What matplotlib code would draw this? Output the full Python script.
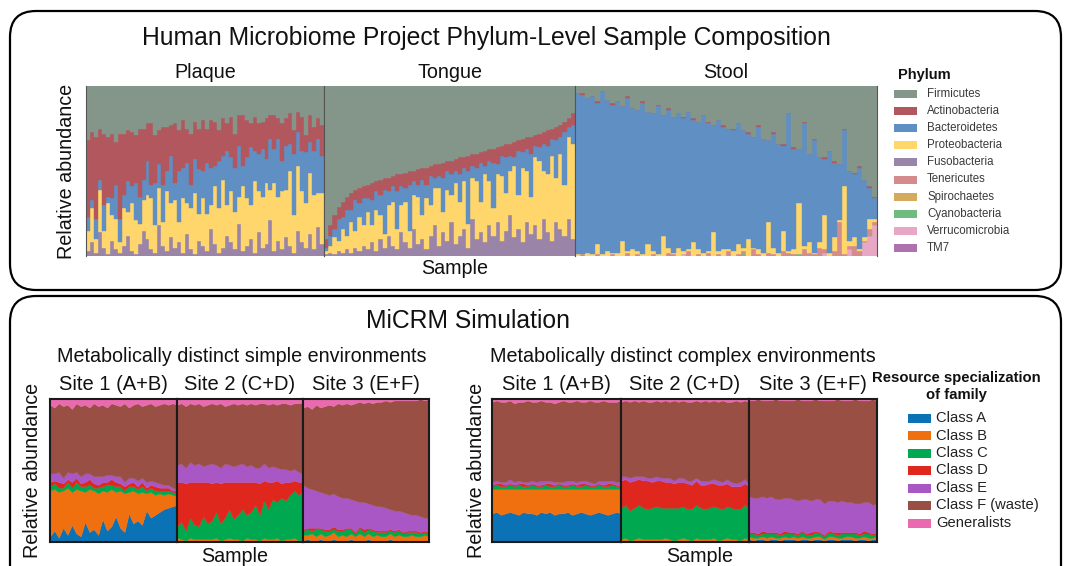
import numpy as np
import matplotlib
matplotlib.use("Agg")
import matplotlib.pyplot as plt
from matplotlib.patches import FancyBboxPatch, Rectangle

plt.rcParams['font.family'] = ['Liberation Sans', 'DejaVu Sans']

# ---------------- HMP phylum data (percent per sample) ----------------
phyla = ["Firmicutes", "Actinobacteria", "Bacteroidetes", "Proteobacteria", "Fusobacteria",
         "Tenericutes", "Spirochaetes", "Cyanobacteria", "Verrucomicrobia", "TM7"]
phylum_colors = ["#849689", "#b3575f", "#5f8fc3", "#ffd66c", "#9a85a8",
                 "#d48b8b", "#d4aa5c", "#6fbb80", "#e8a7c4", "#ae73ad"]

plaque_fuso = [3, 8, 2, 14, 5, 1, 9, 4, 2, 6, 12, 3, 1, 7, 15, 10, 4, 2, 18, 6,
               3, 11, 5, 8, 2, 13, 4, 1, 9, 6, 3, 16, 7, 2, 5, 12, 8, 4, 19, 3,
               6, 10, 2, 14, 5, 7, 21, 3, 9, 4, 11, 6, 2, 15, 8, 5, 13, 4, 17, 7]
plaque_proteo = [12, 20, 8, 25, 10, 30, 15, 18, 6, 22, 14, 28, 20, 12, 18, 26, 30, 16, 22, 14,
                 35, 20, 28, 12, 32, 18, 24, 36, 16, 28, 22, 14, 34, 26, 40, 18, 30, 22, 16, 38,
                 28, 20, 42, 24, 30, 36, 18, 40, 26, 34, 28, 44, 22, 38, 30, 26, 36, 32, 20, 30]
plaque_bact = [8, 5, 12, 6, 15, 4, 10, 20, 14, 8, 18, 10, 22, 16, 12, 20, 8, 25, 14, 22,
               12, 28, 10, 30, 18, 24, 14, 20, 26, 16, 30, 22, 12, 28, 14, 32, 20, 26, 30, 12,
               24, 34, 18, 22, 28, 14, 30, 20, 34, 18, 26, 16, 36, 20, 24, 30, 18, 26, 32, 22]
plaque_actino = [45, 40, 48, 30, 42, 35, 38, 25, 50, 36, 30, 32, 28, 40, 30, 22, 36, 28, 20, 34,
                 26, 18, 35, 24, 28, 20, 30, 22, 24, 30, 20, 28, 26, 18, 22, 16, 24, 20, 18, 30,
                 22, 14, 20, 18, 16, 24, 14, 20, 12, 22, 16, 18, 14, 12, 20, 10, 16, 14, 12, 18]

tongue_fuso = [1, 2, 1, 3, 2, 4, 2, 5, 3, 6, 4, 8, 3, 10, 5, 12, 6, 4, 14, 8,
               5, 16, 7, 10, 4, 12, 18, 6, 14, 9, 20, 7, 12, 16, 5, 22, 10, 14, 8, 18,
               12, 20, 9, 15, 24, 11, 16, 8, 20, 13, 18, 10, 22, 14, 9, 20, 16, 12, 22, 10]
tongue_proteo = [2, 4, 10, 6, 14, 8, 18, 10, 20, 12, 22, 10, 24, 14, 8, 18, 26, 12, 16, 24,
                 10, 20, 28, 14, 30, 18, 22, 34, 12, 30, 16, 36, 20, 28, 14, 24, 34, 18, 40, 26,
                 16, 28, 38, 22, 26, 42, 20, 44, 30, 22, 40, 46, 28, 34, 50, 26, 44, 30, 48, 56]
tongue_bact = [2, 6, 5, 13, 7, 15, 7, 18, 8, 16, 8, 15, 11, 12, 26, 8, 9, 22, 11, 8,
               27, 8, 7, 21, 8, 17, 6, 7, 20, 11, 12, 7, 16, 8, 31, 7, 8, 23, 5, 12,
               27, 6, 12, 21, 9, 5, 26, 9, 13, 25, 7, 8, 16, 17, 10, 22, 10, 31, 6, 11]
tongue_actino = [5, 6, 8, 7, 9, 8, 10, 6, 9, 7, 8, 10, 6, 9, 7, 8, 6, 10, 7, 9,
                 8, 6, 9, 7, 10, 6, 8, 7, 9, 6, 8, 7, 10, 6, 9, 7, 8, 6, 9, 7,
                 8, 10, 6, 8, 7, 9, 6, 8, 7, 10, 6, 8, 7, 9, 6, 8, 7, 6, 5, 7]

stool_verruco = [0, 0, 0, 0, 0, 0, 0, 0, 0, 0, 0, 0, 0, 0, 0, 0, 0, 0, 0, 0,
                 0, 1, 0, 0, 0, 0, 0, 0, 0, 0, 0, 0, 0, 0, 0, 0, 0, 0, 0, 0,
                 0, 0, 0, 0, 0, 0, 0, 0, 0, 2, 0, 0, 0, 0, 4, 0, 0, 8, 12, 18]
stool_cyano = [0, 0, 0, 0, 0, 0, 0, 0, 0, 0, 0, 0, 0, 0, 0, 0, 0, 0, 0, 0,
               0, 0, 0, 0, 0, 0, 0, 0, 0, 0, 0, 0, 0, 1, 0, 0, 0, 0, 0, 0,
               0, 0, 0, 0, 1, 0, 0, 0, 0, 0, 0, 0, 0, 0, 0, 0, 0, 0, 0, 0]
stool_teneri = [0, 1, 0, 0, 1, 0, 0, 1, 0, 0, 2, 0, 1, 0, 0, 1, 0, 0, 2, 1,
                0, 0, 3, 0, 1, 0, 2, 0, 1, 0, 3, 0, 1, 2, 0, 4, 1, 0, 2, 1,
                0, 3, 2, 1, 0, 4, 2, 1, 5, 2, 0, 3, 20, 1, 2, 6, 3, 1, 4, 2]
stool_proteo = [1, 0, 2, 1, 6, 1, 3, 1, 2, 9, 1, 4, 2, 1, 7, 2, 1, 12, 3, 1,
                5, 2, 1, 8, 3, 2, 1, 14, 2, 4, 1, 3, 6, 2, 10, 1, 3, 2, 18, 4,
                2, 12, 1, 3, 30, 2, 6, 1, 3, 20, 2, 8, 1, 40, 3, 5, 1, 2, 6, 2]
stool_bact = [95, 94, 91, 93, 83, 96, 89, 87, 89, 79, 90, 83, 83, 89, 78, 81, 87, 71, 81, 80,
              79, 78, 81, 72, 75, 81, 75, 63, 77, 72, 71, 71, 71, 69, 62, 65, 72, 67, 48, 67,
              64, 50, 81, 59, 32, 72, 52, 66, 50, 33, 60, 44, 33, 33, 41, 37, 48, 34, 18, 12]
stool_actino = [0, 1, 0, 0, 1, 0, 0, 1, 0, 0, 1, 0, 0, 1, 0, 0, 1, 0, 1, 0,
                0, 1, 0, 1, 0, 0, 1, 0, 0, 1, 0, 1, 0, 0, 1, 0, 1, 0, 0, 1,
                0, 1, 0, 1, 0, 1, 0, 1, 0, 1, 0, 1, 0, 1, 0, 1, 1, 0, 1, 1]

site_names = ["Plaque", "Tongue", "Stool"]

# ---------------- MiCRM simulation data (percent per sample) ----------------
classes = ["Class A", "Class B", "Class C", "Class D", "Class E", "Class F (waste)", "Generalists"]
class_colors = ["#0b72b6", "#f07010", "#00a84f", "#e0271d", "#aa57c6", "#994f44", "#e96aae"]

simple1_A = [4, 8, 3, 10, 5, 12, 6, 4, 14, 7, 9, 5, 16, 8, 11, 18, 10, 7, 20, 13, 15, 12, 22, 17, 19, 21, 23, 24, 25, 26]
simple1_B = [32, 29, 32, 26, 33, 23, 31, 32, 21, 30, 27, 29, 20, 27, 26, 17, 26, 27, 15, 23, 19, 23, 12, 18, 14, 13, 10, 10, 8, 6]
simple1_C = [3, 4, 3, 2, 4, 3, 5, 3, 4, 3, 2, 4, 3, 5, 3, 4, 3, 2, 4, 3, 3, 4, 2, 3, 3, 2, 3, 2, 2, 2]
simple1_D = [3, 2, 4, 3, 2, 4, 3, 2, 3, 4, 3, 2, 3, 2, 4, 3, 2, 3, 2, 3, 2, 3, 2, 2, 3, 2, 2, 2, 1, 2]
simple1_E = [6, 5, 7, 4, 5, 6, 4, 5, 6, 4, 5, 6, 4, 5, 3, 4, 5, 3, 4, 3, 4, 3, 4, 3, 3, 3, 2, 2, 2, 1]
simple1_G = [4, 6, 3, 5, 4, 7, 3, 5, 4, 6, 3, 5, 4, 6, 3, 4, 5, 3, 6, 4, 3, 5, 4, 3, 5, 4, 3, 4, 3, 4]

simple2_A = [1, 1, 0, 1, 1, 1, 0, 1, 1, 1, 0, 1, 1, 1, 1, 0, 1, 1, 1, 0, 1, 1, 1, 1, 0, 1, 1, 1, 0, 1]
simple2_B = [2, 1, 1, 2, 1, 1, 2, 1, 1, 2, 1, 1, 2, 1, 1, 1, 2, 1, 1, 1, 2, 1, 1, 2, 1, 1, 1, 2, 1, 1]
simple2_C = [8, 12, 7, 14, 10, 9, 16, 11, 13, 18, 12, 15, 20, 14, 17, 22, 16, 19, 24, 18, 26, 21, 28, 25, 30, 27, 31, 33, 32, 34]
simple2_D = [31, 28, 33, 25, 30, 31, 24, 29, 26, 21, 28, 25, 19, 26, 23, 19, 23, 21, 16, 22, 14, 19, 12, 15, 10, 13, 9, 7, 9, 6]
simple2_E = [12, 13, 11, 14, 12, 13, 11, 12, 14, 12, 11, 13, 12, 11, 12, 13, 11, 12, 10, 11, 12, 10, 11, 9, 10, 9, 8, 8, 7, 6]
simple2_G = [4, 3, 5, 3, 4, 3, 5, 4, 3, 4, 3, 5, 4, 3, 4, 3, 4, 3, 4, 3, 3, 4, 3, 4, 3, 3, 4, 3, 3, 3]

simple3_A = [1, 2, 1, 1, 2, 1, 1, 2, 1, 1, 1, 2, 1, 1, 1, 2, 1, 1, 1, 1, 2, 1, 1, 1, 1, 1, 1, 1, 1, 1]
simple3_B = [4, 3, 5, 3, 4, 3, 4, 5, 3, 4, 3, 4, 3, 5, 3, 4, 3, 4, 3, 3, 4, 3, 4, 3, 3, 4, 3, 3, 4, 3]
simple3_C = [3, 4, 2, 5, 3, 4, 3, 2, 4, 3, 5, 3, 2, 4, 3, 3, 4, 2, 3, 3, 2, 3, 3, 2, 3, 2, 3, 2, 2, 2]
simple3_D = [1, 1, 2, 1, 1, 1, 1, 2, 1, 1, 1, 1, 1, 1, 2, 1, 1, 1, 1, 1, 1, 1, 1, 1, 1, 1, 1, 1, 1, 1]
simple3_E = [31, 28, 27, 26, 25, 25, 24, 23, 23, 22, 21, 20, 22, 17, 19, 17, 17, 17, 17, 16, 14, 14, 13, 14, 12, 11, 11, 11, 9, 10]
simple3_G = [6, 5, 7, 4, 6, 5, 4, 5, 3, 4, 3, 4, 3, 2, 3, 2, 3, 2, 2, 1, 2, 1, 1, 1, 1, 1, 1, 0, 1, 0]

complex1_A = [20, 21, 19, 20, 21, 20, 19, 21, 20, 20, 19, 21, 20, 21, 19, 20, 20, 21, 19, 20, 21, 20, 19, 20, 21, 20, 19, 20, 21, 20]
complex1_B = [17, 16, 18, 17, 16, 17, 18, 16, 17, 17, 18, 16, 17, 16, 18, 17, 17, 16, 18, 17, 16, 17, 18, 17, 16, 17, 18, 17, 16, 17]
complex1_C = [2, 3, 2, 2, 3, 2, 3, 2, 2, 3, 2, 2, 3, 2, 2, 3, 2, 2, 3, 2, 2, 3, 2, 2, 3, 2, 2, 3, 2, 2]
complex1_D = [1, 1, 2, 1, 1, 1, 1, 2, 1, 1, 1, 1, 1, 2, 1, 1, 1, 1, 1, 1, 2, 1, 1, 1, 1, 1, 2, 1, 1, 1]
complex1_E = [2, 2, 1, 2, 3, 2, 2, 1, 2, 2, 2, 3, 2, 2, 2, 1, 2, 3, 2, 2, 2, 2, 2, 1, 2, 3, 2, 2, 2, 2]
complex1_G = [2, 1, 2, 2, 1, 3, 2, 2, 1, 2, 2, 1, 2, 2, 3, 2, 1, 2, 2, 1, 2, 2, 1, 2, 2, 1, 2, 2, 2, 1]

complex2_A = [1, 1, 0, 1, 1, 1, 1, 0, 1, 1, 1, 1, 0, 1, 1, 1, 0, 1, 1, 1, 1, 1, 0, 1, 1, 1, 1, 0, 1, 1]
complex2_B = [1, 2, 1, 1, 2, 1, 1, 2, 1, 1, 2, 1, 1, 1, 2, 1, 1, 2, 1, 1, 1, 2, 1, 1, 2, 1, 1, 1, 2, 1]
complex2_C = [22, 23, 21, 22, 23, 22, 21, 22, 23, 22, 21, 22, 23, 22, 22, 21, 22, 23, 22, 21, 22, 22, 23, 21, 22, 22, 21, 22, 23, 22]
complex2_D = [19, 18, 20, 19, 18, 19, 20, 18, 18, 19, 18, 18, 17, 18, 17, 18, 17, 17, 16, 17, 17, 16, 16, 17, 16, 15, 16, 16, 15, 15]
complex2_E = [3, 2, 3, 3, 2, 3, 2, 3, 3, 2, 3, 3, 2, 3, 3, 2, 3, 2, 3, 3, 2, 3, 3, 2, 3, 3, 2, 3, 3, 2]
complex2_G = [2, 1, 2, 1, 2, 1, 2, 2, 1, 2, 1, 2, 1, 2, 1, 2, 2, 1, 2, 1, 2, 1, 2, 1, 2, 2, 1, 2, 1, 2]

complex3_A = [2, 1, 2, 2, 1, 2, 2, 1, 2, 2, 2, 1, 2, 2, 1, 2, 2, 1, 2, 2, 1, 2, 2, 2, 1, 2, 2, 1, 2, 2]
complex3_B = [2, 2, 1, 2, 2, 2, 1, 2, 2, 1, 2, 2, 2, 1, 2, 2, 2, 1, 2, 2, 2, 1, 2, 2, 2, 1, 2, 2, 1, 2]
complex3_C = [2, 3, 2, 2, 3, 2, 3, 2, 2, 3, 2, 2, 3, 2, 2, 3, 2, 2, 3, 2, 2, 3, 2, 2, 3, 2, 2, 3, 2, 2]
complex3_D = [1, 1, 1, 2, 1, 1, 1, 1, 2, 1, 1, 1, 1, 1, 2, 1, 1, 1, 1, 1, 2, 1, 1, 1, 1, 1, 2, 1, 1, 1]
complex3_E = [25, 24, 25, 24, 24, 25, 23, 24, 23, 24, 23, 23, 22, 24, 22, 22, 23, 22, 21, 22, 21, 22, 21, 21, 20, 21, 20, 21, 20, 20]
complex3_G = [1, 1, 0, 1, 1, 1, 0, 1, 1, 1, 1, 0, 1, 1, 1, 0, 1, 1, 1, 1, 0, 1, 1, 1, 0, 1, 1, 1, 0, 1]

sim_site_labels = ["Site 1 (A+B)", "Site 2 (C+D)", "Site 3 (E+F)"]

# ---------------- build tables ----------------
hmp_sites = [
    {"Fusobacteria": plaque_fuso, "Proteobacteria": plaque_proteo,
     "Bacteroidetes": plaque_bact, "Actinobacteria": plaque_actino},
    {"Fusobacteria": tongue_fuso, "Proteobacteria": tongue_proteo,
     "Bacteroidetes": tongue_bact, "Actinobacteria": tongue_actino},
    {"Verrucomicrobia": stool_verruco, "Cyanobacteria": stool_cyano, "Tenericutes": stool_teneri,
     "Proteobacteria": stool_proteo, "Bacteroidetes": stool_bact, "Actinobacteria": stool_actino},
]
simple_panels = [
    [simple1_A, simple1_B, simple1_C, simple1_D, simple1_E, simple1_G],
    [simple2_A, simple2_B, simple2_C, simple2_D, simple2_E, simple2_G],
    [simple3_A, simple3_B, simple3_C, simple3_D, simple3_E, simple3_G],
]
complex_panels = [
    [complex1_A, complex1_B, complex1_C, complex1_D, complex1_E, complex1_G],
    [complex2_A, complex2_B, complex2_C, complex2_D, complex2_E, complex2_G],
    [complex3_A, complex3_B, complex3_C, complex3_D, complex3_E, complex3_G],
]

W, H = 1067, 566
fig = plt.figure(figsize=(W / 100, H / 100), dpi=100)


def px_axes(x0, x1, y0, y1):
    return fig.add_axes([x0 / W, 1 - y1 / H, (x1 - x0) / W, (y1 - y0) / H])


# ---------------- top: HMP stacked bars ----------------
top_edges = [86, 324, 575, 877]
for k, site in enumerate(hmp_sites):
    ax = px_axes(top_edges[k], top_edges[k + 1], 86, 256)
    n = len(next(iter(site.values())))
    x = np.arange(n)
    bottom = np.zeros(n)
    # stack from the last legend entry up to the second one; Firmicutes fills the rest
    for name, col in zip(phyla[::-1], phylum_colors[::-1]):
        if name == "Firmicutes":
            vals = 100 - bottom
        elif name in site:
            vals = np.array(site[name], dtype=float)
        else:
            continue
        ax.bar(x, vals / 100, bottom=bottom / 100, width=1.0, color=col,
               edgecolor=col, linewidth=0.3)
        bottom = bottom + vals
    ax.set_xlim(-0.5, n - 0.5)
    ax.set_ylim(0, 1)
    ax.set_xticks([])
    ax.set_yticks([])
    for s in ["top", "bottom"]:
        ax.spines[s].set_visible(False)
    for s in ["left", "right"]:
        ax.spines[s].set_color("#555555")
        ax.spines[s].set_linewidth(0.8)

# ---------------- bottom: simulation stacked areas ----------------
def sim_panel(edges, panels):
    for k, series in enumerate(panels):
        ax = px_axes(edges[k], edges[k + 1], 399, 542)
        n = len(series[0])
        x = np.arange(n)
        low = [np.array(s, dtype=float) for s in series[:5]]
        gen = np.array(series[5], dtype=float)
        waste = 100 - sum(low) - gen
        stack = low + [waste, gen]
        ax.stackplot(x, [s / 100 for s in stack], colors=class_colors,
                     edgecolor="face", linewidth=0.3)
        ax.set_xlim(0, n - 1)
        ax.set_ylim(0, 1)
        ax.set_xticks([])
        ax.set_yticks([])
        for s in ax.spines.values():
            s.set_linewidth(1.5)
            s.set_color("#1a1a1a")


simple_edges = [50, 177, 303, 429]
complex_edges = [492, 621, 749, 877]
sim_panel(simple_edges, simple_panels)
sim_panel(complex_edges, complex_panels)

# ---------------- overlay in pixel coordinates ----------------
ov = fig.add_axes([0, 0, 1, 1], zorder=10)
ov.set_xlim(0, W)
ov.set_ylim(H, 0)
ov.axis("off")
ov.patch.set_alpha(0)

for (x0, y0, x1, y1) in [(10, 11, 1061, 290), (10, 296, 1061, 620)]:
    ov.add_patch(FancyBboxPatch((x0, y0), x1 - x0, y1 - y0,
                                boxstyle="round,pad=0,rounding_size=26",
                                fill=False, edgecolor="black", linewidth=1.6))

txt = dict(ha="center", va="center", color="#111111")
ov.text(486, 38, "Human Microbiome Project Phylum-Level Sample Composition", fontsize=17.8, **txt)
for k, name in enumerate(site_names):
    ov.text((top_edges[k] + top_edges[k + 1]) / 2, 73, name, fontsize=14.2, **txt)
ov.text(66, 171, "Relative abundance", rotation=90, fontsize=14.2, **txt)
ov.text(455, 269, "Sample", fontsize=14.2, **txt)

ov.text(898, 75, "Phylum", fontsize=10.5, fontweight="bold", ha="left", va="center", color="#111111")
for i, (name, col) in enumerate(zip(phyla, phylum_colors)):
    yc = 94 + 17.1 * i
    ov.add_patch(Rectangle((894, yc - 4), 23, 8, facecolor=col, edgecolor="none"))
    ov.text(927, yc, name, fontsize=8.3, ha="left", va="center", color="#3a3a3a")

ov.text(468, 321, "MiCRM Simulation", fontsize=17.8, **txt)
ov.text(242, 356, "Metabolically distinct simple environments", fontsize=14.2, **txt)
ov.text(683, 356, "Metabolically distinct complex environments", fontsize=14.2, **txt)
for edges in (simple_edges, complex_edges):
    for k, lab in enumerate(sim_site_labels):
        ov.text((edges[k] + edges[k + 1]) / 2, 384, lab, fontsize=14.5, **txt)
ov.text(33, 470, "Relative abundance", rotation=90, fontsize=14.2, **txt)
ov.text(476, 470, "Relative abundance", rotation=90, fontsize=14.2, **txt)
ov.text(235, 556, "Sample", fontsize=14.2, **txt)
ov.text(700, 556, "Sample", fontsize=14.2, **txt)

ov.text(956, 378, "Resource specialization", fontsize=10.7, fontweight="bold", **txt)
ov.text(956, 395, "of family", fontsize=10.7, fontweight="bold", **txt)
for i, (name, col) in enumerate(zip(classes, class_colors)):
    yc = 418 + 17.5 * i
    ov.add_patch(Rectangle((908, yc - 4.5), 23, 9, facecolor=col, edgecolor="none"))
    ov.text(936, yc, name, fontsize=10.6, ha="left", va="center", color="#222222")

fig.savefig("out.png", dpi=100)
